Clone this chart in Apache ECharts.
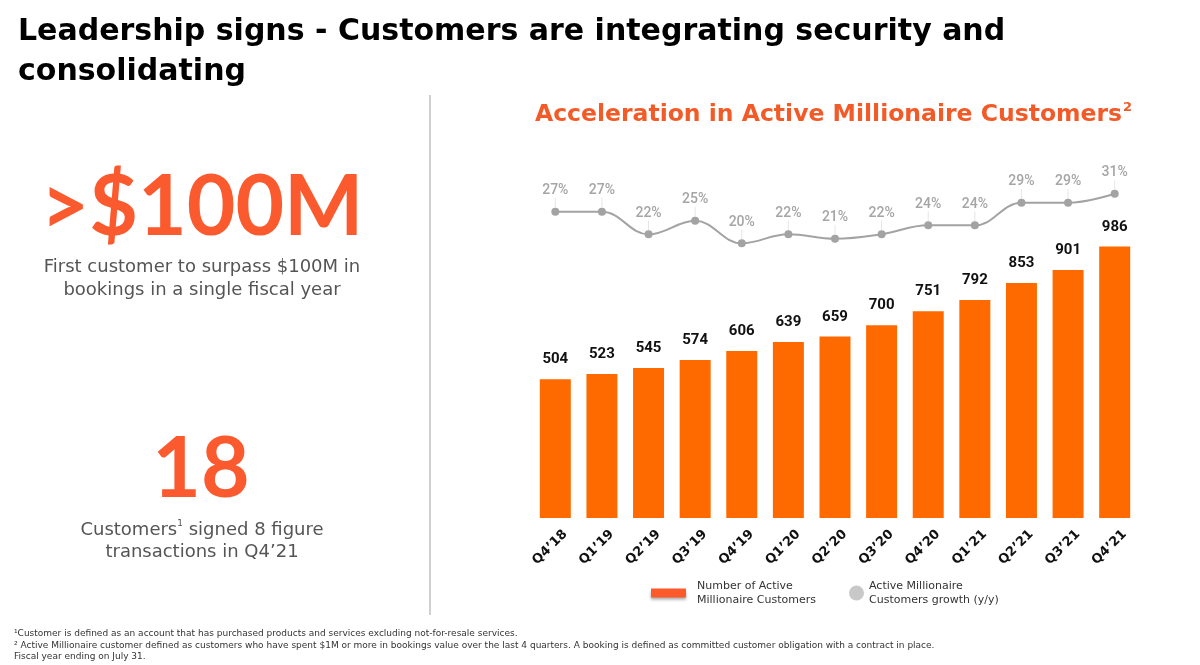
<!DOCTYPE html>
<html lang="en" style="height: 100%">
<head>
  <meta charset="UTF-8">
  <title>Active Millionaire Customers</title>
  <script src="https://cdn.jsdelivr.net/npm/echarts@6/dist/echarts.min.js"></script>
</head>
<body style="height: 100%; margin: 0; background: #fff;">
  <div id="main" style="width: 1200px; height: 665px;"></div>

  <script>
  // quarters on the x axis
  const quarters = ['Q4’18', 'Q1’19', 'Q2’19', 'Q3’19', 'Q4’19', 'Q1’20', 'Q2’20',
                    'Q3’20', 'Q4’20', 'Q1’21', 'Q2’21', 'Q3’21', 'Q4’21'];
  // number of active millionaire customers
  const customers = [504, 523, 545, 574, 606, 639, 659, 700, 751, 792, 853, 901, 986];
  // y/y growth, percent
  const growth = [27, 27, 22, 25, 20, 22, 21, 22, 24, 24, 29, 29, 31];

  const barName = 'Number of Active\nMillionaire Customers';
  const lineName = 'Active Millionaire\nCustomers growth (y/y)';

  const orange = '#ff6a00';
  const headOrange = '#f25a27';
  const bigOrange = '#fb5a2e';
  const grey = '#a3a3a3';

  const chart = echarts.init(document.getElementById('main'));

  const option = {
    animation: false,
    title: {
      text: '{t|Acceleration in Active Millionaire Customers}{s|2}',
      left: 530,
      top: 96,
      textStyle: {
        rich: {
          t: { fontFamily: 'DejaVu Sans', fontWeight: 'bold', fontSize: 23.5, color: headOrange },
          s: { fontFamily: 'DejaVu Sans', fontWeight: 'bold', fontSize: 13, color: headOrange, verticalAlign: 'top', padding: [0, 0, 14, 1] }
        }
      }
    },
    legend: [
      {
        data: [barName],
        left: 646,
        top: 574,
        itemWidth: 35,
        itemHeight: 9,
        itemGap: 10,
        icon: 'rect',
        textStyle: { fontFamily: 'DejaVu Sans', fontSize: 11, color: '#333', lineHeight: 14, padding: [0, 0, 0, 6] },
        itemStyle: { color: '#fc5a2a', shadowBlur: 3, shadowColor: 'rgba(0,0,0,0.35)', shadowOffsetY: 2 }
      },
      {
        data: [lineName],
        left: 844,
        top: 574,
        itemWidth: 15,
        itemHeight: 15,
        icon: 'circle',
        textStyle: { fontFamily: 'DejaVu Sans', fontSize: 11, color: '#333', lineHeight: 14 },
        itemStyle: { color: '#c8c8c8' }
      }
    ],
    grid: { left: 532, right: 62, top: 160, bottom: 147 },
    xAxis: {
      type: 'category',
      data: quarters,
      axisLine: { show: false },
      axisTick: { show: false },
      axisLabel: {
        rotate: 45,
        margin: 24,
        interval: 0,
        padding: [0, -14, 0, 0],
        fontFamily: 'DejaVu Sans',
        fontWeight: 'bold',
        fontSize: 13,
        color: '#111'
      }
    },
    yAxis: [
      { type: 'value', min: 0, max: 1300, show: false },
      { type: 'value', min: -41, max: 38.5, show: false }
    ],
    series: [
      {
        name: barName,
        type: 'bar',
        data: customers,
        barWidth: 31,
        itemStyle: { color: orange },
        label: {
          show: true,
          position: 'top',
          distance: 12,
          fontFamily: 'Roboto',
          fontWeight: 'bold',
          fontSize: 15,
          color: '#111'
        }
      },
      {
        name: lineName,
        type: 'line',
        yAxisIndex: 1,
        data: growth,
        smooth: 0.4,
        symbol: 'circle',
        symbolSize: 8,
        lineStyle: { color: grey, width: 2 },
        itemStyle: { color: grey },
        label: {
          show: true,
          position: 'top',
          distance: 3,
          formatter: '{c}%',
          fontFamily: 'Roboto',
          fontWeight: 500,
          fontSize: 14,
          color: '#a5a5a5'
        },
        labelLayout: { dy: -7 },
        labelLine: { show: true, lineStyle: { color: '#e6e6e6', width: 1 } }
      }
    ],
    graphic: [
      {
        type: 'text', left: 18, top: 12,
        style: {
          text: 'Leadership signs - Customers are integrating security and\nconsolidating',
          fontFamily: 'DejaVu Sans', fontWeight: 'bold', fontSize: 30, lineHeight: 40, fill: '#000'
        }
      },
      {
        type: 'rect',
        shape: { x: 429, y: 95, width: 2, height: 520 },
        style: { fill: '#d0d0d0' }
      },
      {
        type: 'text', x: 202, y: 208,
        style: {
          text: '>$100M', align: 'center', verticalAlign: 'middle',
          fontFamily: 'Lato', fontWeight: 'bold', fontSize: 84, fill: bigOrange
        }
      },
      {
        type: 'text', x: 202, y: 279,
        style: {
          text: 'First customer to surpass $100M in\nbookings in a single fiscal year',
          align: 'center', verticalAlign: 'middle',
          fontFamily: 'DejaVu Sans', fontSize: 18, lineHeight: 23, fill: '#555'
        }
      },
      {
        type: 'text', x: 201, y: 470,
        style: {
          text: '18', align: 'center', verticalAlign: 'middle',
          fontFamily: 'Lato', fontWeight: 'bold', fontSize: 84, fill: bigOrange
        }
      },
      {
        type: 'text', x: 202, y: 541,
        style: {
          text: '{a|Customers}{s|1}{a| signed 8 figure}\n{a|transactions in Q4’21}',
          align: 'center', verticalAlign: 'middle',
          rich: {
            a: { fontFamily: 'DejaVu Sans', fontSize: 18, lineHeight: 22, fill: '#555' },
            s: { fontFamily: 'DejaVu Sans', fontSize: 9, fill: '#555', verticalAlign: 'top', padding: [0, 0, 9, 0] }
          }
        }
      },
      {
        type: 'text', left: 14, top: 628,
        style: {
          text: '¹Customer is defined as an account that has purchased products and services excluding not-for-resale services.\n² Active Millionaire customer defined as customers who have spent $1M or more in bookings value over the last 4 quarters. A booking is defined as committed customer obligation with a contract in place.\nFiscal year ending on July 31.',
          fontFamily: 'DejaVu Sans', fontSize: 9, lineHeight: 11.5, fill: '#333'
        }
      }
    ]
  };

  chart.setOption(option);
  </script>
</body>
</html>
